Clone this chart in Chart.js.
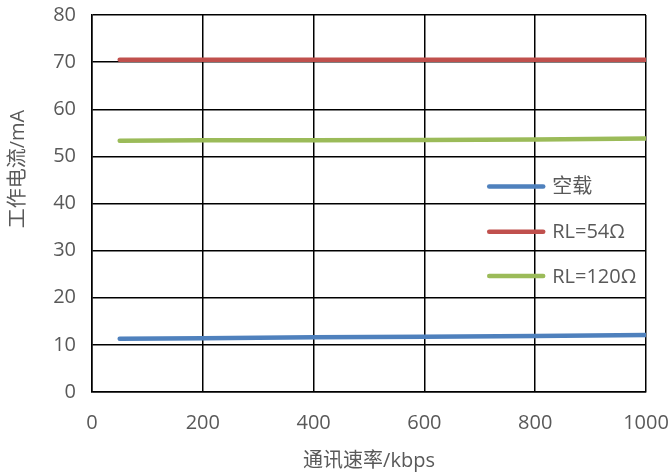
<!DOCTYPE html>
<html>
<head>
<meta charset="utf-8">
<script src="https://cdn.jsdelivr.net/npm/chart.js@4/dist/chart.umd.min.js"></script>
<style>
  html, body { margin: 0; padding: 0; background: #fff; }
  #wrap { width: 671px; height: 475px; }
</style>
</head>
<body>
<div id="wrap"><canvas id="c"></canvas></div>
<script>
// 通讯速率 (kbps)
const rates = [50, 200, 400, 600, 800, 1000];
// 工作电流 (mA)
const noLoad = [11.3, 11.4, 11.6, 11.7, 11.9, 12.1];
const rl54 = [70.5, 70.5, 70.5, 70.5, 70.5, 70.5];
const rl120 = [53.3, 53.4, 53.4, 53.5, 53.6, 53.8];
const seriesNames = ['空载', 'RL=54Ω', 'RL=120Ω'];
const colors = ['#4F81BD', '#C0504D', '#9BBB59'];
const yTitle = '工作电流/mA';
const xTitle = '通讯速率/kbps';

const font = '"Open Sans", "Noto Sans CJK SC", sans-serif';
const grey = '#595959';

function pts(ys) {
    return rates.map((x, i) => ({ x: x, y: ys[i] }));
}

// legend drawn inside the plot area, on top of the grid
const innerLegend = {
    id: 'innerLegend',
    afterDatasetsDraw(chart) {
        const ctx = chart.ctx;
        const x0 = chart.scales.x.getPixelForValue(717);
        const ys = [43.6, 34.0, 24.6].map(v => chart.scales.y.getPixelForValue(v));
        ctx.save();
        ctx.font = '20px ' + font;
        ctx.textBaseline = 'middle';
        seriesNames.forEach((name, i) => {
            ctx.strokeStyle = colors[i];
            ctx.lineWidth = 4.5;
            ctx.lineCap = 'round';
            ctx.beginPath();
            ctx.moveTo(x0, ys[i]);
            ctx.lineTo(x0 + 54, ys[i]);
            ctx.stroke();
            ctx.fillStyle = grey;
            ctx.fillText(name, x0 + 63, ys[i] + 1);
        });
        // y axis title, sits a bit above the middle like the original
        ctx.translate(18, chart.chartArea.top + 154);
        ctx.rotate(-Math.PI / 2);
        ctx.textAlign = 'center';
        ctx.fillText(yTitle, 0, 0);
        ctx.restore();
    }
};

new Chart(document.getElementById('c'), {
    type: 'line',
    data: {
        datasets: [
            { label: seriesNames[0], data: pts(noLoad), borderColor: colors[0] },
            { label: seriesNames[1], data: pts(rl54), borderColor: colors[1] },
            { label: seriesNames[2], data: pts(rl120), borderColor: colors[2] }
        ]
    },
    options: {
        responsive: true,
        maintainAspectRatio: false,
        animation: false,
        layout: { padding: { top: 15, right: 25, bottom: 2, left: 53 } },
        elements: {
            line: { borderWidth: 4.5, tension: 0, borderCapStyle: 'round', fill: false },
            point: { radius: 0, hoverRadius: 0 }
        },
        plugins: {
            legend: { display: false },
            tooltip: { enabled: false }
        },
        scales: {
            x: {
                type: 'linear',
                min: 0,
                max: 1000,
                ticks: { stepSize: 200, color: grey, font: { size: 20, family: font }, padding: 19,
                    maxRotation: 0, callback: v => String(v) },
                grid: { color: '#000', lineWidth: 1.5, drawTicks: false },
                border: { color: '#000', width: 1.5 },
                title: { display: true, text: xTitle, color: grey, font: { size: 20, family: font }, padding: { top: 14, bottom: 0 } },
                afterFit(s) { s.height = 81; s.paddingLeft = 0; s.paddingRight = 24; }
            },
            y: {
                min: 0,
                max: 80,
                ticks: { stepSize: 10, color: grey, font: { size: 20, family: font }, padding: 16 },
                grid: { color: '#000', lineWidth: 1.5, drawTicks: false },
                border: { color: '#000', width: 1.5 },
                afterFit(s) { s.width = 39; s.paddingTop = 12; s.paddingBottom = 12; }
            }
        }
    },
    plugins: [innerLegend]
});
</script>
</body>
</html>
